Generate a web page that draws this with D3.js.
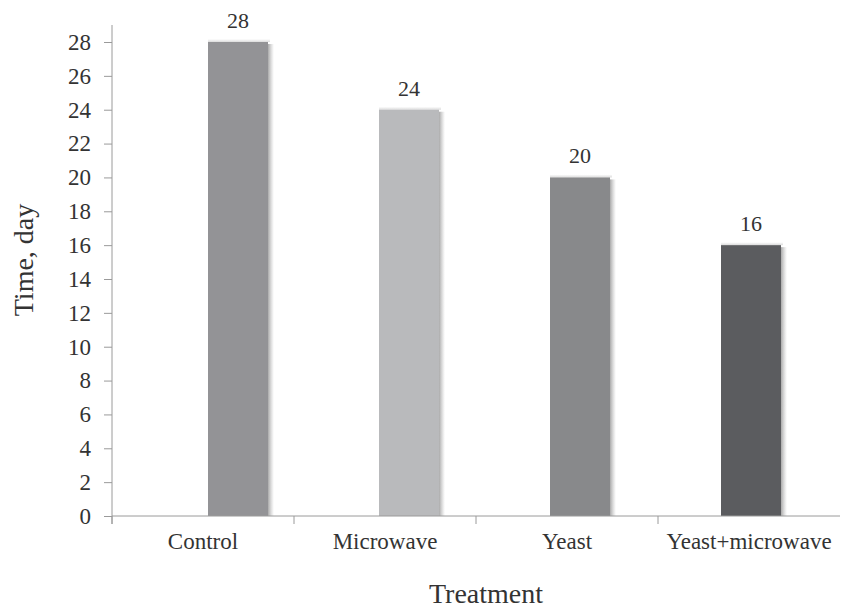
<!DOCTYPE html>
<html>
<head>
<meta charset="utf-8">
<script src="https://cdn.jsdelivr.net/npm/d3@7"></script>
<style>
  html, body { margin: 0; padding: 0; background: #fff; }
  svg { display: block; font-family: "Liberation Serif", "Times New Roman", serif; }
</style>
</head>
<body>
<svg id="chart" width="841" height="608"></svg>
<script>
// Treatment duration data
const categories = ["Control", "Microwave", "Yeast", "Yeast+microwave"];
const days = [28, 24, 20, 16];
const barColors = ["#939396", "#b9babc", "#88898b", "#5b5c5f"];
const yTicks = [0, 2, 4, 6, 8, 10, 12, 14, 16, 18, 20, 22, 24, 26, 28];

(function () {
const svg = d3.select("#chart");
const plotLeft = 112, plotRight = 840, plotBottom = 516, plotTop = 25;
const textColor = "#333";

const y = d3.scaleLinear().domain([0, 28]).range([plotBottom, 42]);
const xBand = d3.scaleBand().domain(categories).range([plotLeft, plotRight]);
const xBar = d3.scalePoint().domain(categories).range([238, 751]);
const barW = 60;

// soft shadow to the right of and above each bar
const defs = svg.append("defs");
const grad = defs.append("linearGradient").attr("id", "shade").attr("x1", 0).attr("x2", 1);
grad.append("stop").attr("offset", 0).attr("stop-color", "#6a6a6a").attr("stop-opacity", 0.7);
grad.append("stop").attr("offset", 1).attr("stop-color", "#999").attr("stop-opacity", 0);
const fgrad = defs.append("linearGradient").attr("id", "shadeTop").attr("x1", 0).attr("x2", 0).attr("y1", 1).attr("y2", 0);
fgrad.append("stop").attr("offset", 0).attr("stop-color", "#999").attr("stop-opacity", 0.35);
fgrad.append("stop").attr("offset", 1).attr("stop-color", "#999").attr("stop-opacity", 0);

const bars = svg.append("g");
categories.forEach((c, i) => {
  const cx = xBar(c);
  const y0 = y(days[i]);
  bars.append("rect")
    .attr("x", cx + barW / 2 - 1).attr("y", y0 + 2)
    .attr("width", 7).attr("height", plotBottom - y0 - 2)
    .attr("fill", "url(#shade)");
  bars.append("rect")
    .attr("x", cx - barW / 2).attr("y", y0 - 3)
    .attr("width", barW + 2).attr("height", 3)
    .attr("fill", "url(#shadeTop)");
  bars.append("rect")
    .attr("x", cx - barW / 2).attr("y", y0)
    .attr("width", barW).attr("height", plotBottom - y0)
    .attr("fill", barColors[i]);
  svg.append("text")
    .attr("x", cx).attr("y", y0 - 14)
    .attr("text-anchor", "middle")
    .attr("font-size", 22).attr("fill", textColor)
    .text(days[i]);
});

// Y axis
const yAxis = svg.append("g").attr("transform", `translate(${plotLeft},0)`)
  .call(d3.axisLeft(y).tickValues(yTicks).tickSize(8).tickPadding(13).tickSizeOuter(0));
yAxis.select(".domain").remove();
yAxis.append("line").attr("x1", 0).attr("x2", 0).attr("y1", plotTop).attr("y2", plotBottom + 8)
  .attr("stroke", "#9a9a9a");
yAxis.selectAll(".tick line").attr("stroke", "#9a9a9a");
yAxis.selectAll(".tick text").attr("font-size", 23).attr("fill", textColor)
  .attr("font-family", "Liberation Serif, serif");

// X axis
const xAxis = svg.append("g").attr("transform", `translate(0,${plotBottom})`);
xAxis.append("line").attr("x1", plotLeft).attr("x2", plotRight).attr("stroke", "#9a9a9a");
const boundaries = categories.map(c => xBand(c));
xAxis.selectAll("line.tk").data(boundaries).join("line")
  .attr("class", "tk")
  .attr("x1", d => d).attr("x2", d => d).attr("y1", 0).attr("y2", 8)
  .attr("stroke", "#9a9a9a");
xAxis.selectAll("text.cat").data(categories).join("text")
  .attr("class", "cat")
  .attr("x", d => xBand(d) + xBand.bandwidth() / 2)
  .attr("y", 33)
  .attr("text-anchor", "middle")
  .attr("font-size", 23).attr("fill", textColor)
  .text(d => d);

// Axis titles
svg.append("text")
  .attr("transform", "translate(33,260) rotate(-90)")
  .attr("text-anchor", "middle")
  .attr("font-size", 28).attr("fill", textColor)
  .text("Time, day");
svg.append("text")
  .attr("x", 486).attr("y", 603)
  .attr("text-anchor", "middle")
  .attr("font-size", 28).attr("fill", textColor)
  .text("Treatment");
})();
</script>
</body>
</html>
